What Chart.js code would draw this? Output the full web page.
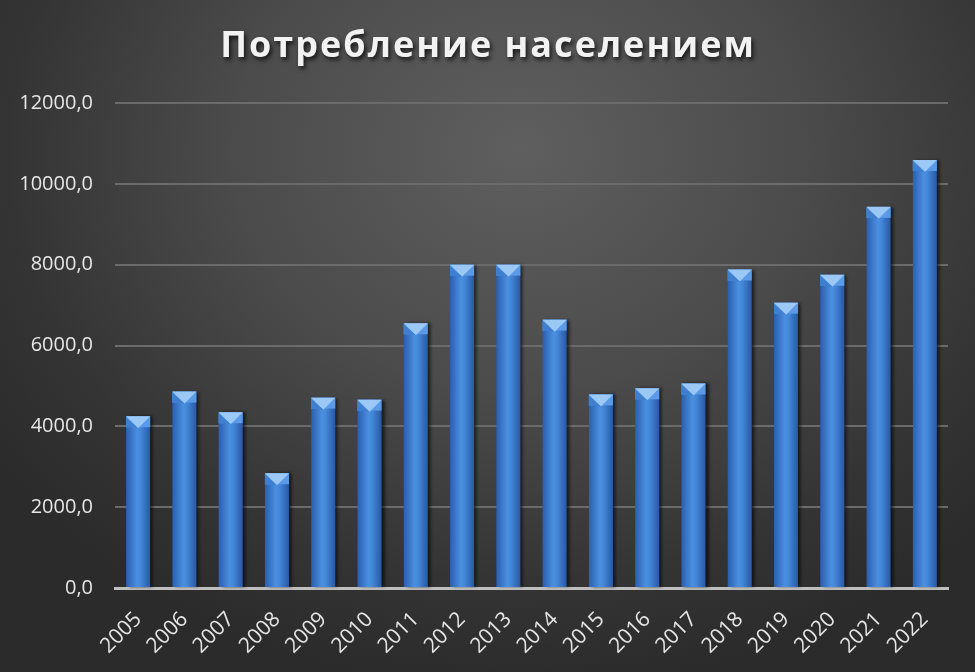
<!DOCTYPE html>
<html>
<head>
<meta charset="utf-8">
<script src="https://cdn.jsdelivr.net/npm/chart.js@4"></script>
<style>
    html, body { margin: 0; padding: 0; }
    #wrap {
        width: 975px;
        height: 672px;
        background: radial-gradient(ellipse 640px 540px at 520px 150px, #5f5f5f 0%, #4b4b4b 45%, #343434 80%, #2b2b2b 100%);
    }
</style>
</head>
<body>
<div id="wrap"><canvas id="chart" width="975" height="672"></canvas></div>
<script>
/* ============================================================
   DATA
   ============================================================ */
const chartTitle = "Потребление населением";
const years = ["2005", "2006", "2007", "2008", "2009", "2010", "2011", "2012", "2013",
               "2014", "2015", "2016", "2017", "2018", "2019", "2020", "2021", "2022"];
const consumption = [4250, 4860, 4350, 2840, 4710, 4660, 6550, 8000, 8000,
                     6640, 4790, 4940, 5060, 7880, 7060, 7750, 9430, 10590];
const yTicks = [0, 2000, 4000, 6000, 8000, 10000, 12000];

/* ============================================================
   BEVEL BARS + TITLE (drawn on top of library elements)
   ============================================================ */
const bevelBars = {
    id: "bevelBars",
    afterDatasetsDraw(chart) {
        const ctx = chart.ctx;
        const meta = chart.getDatasetMeta(0);
        meta.data.forEach(bar => {
            const { x, y, base, width } = bar.getProps(["x", "y", "base", "width"], true);
            const l = x - width / 2, r = x + width / 2;

            // body shading
            const g = ctx.createLinearGradient(l, 0, r, 0);
            g.addColorStop(0, "#2a5fae");
            g.addColorStop(0.45, "#4b8fe0");
            g.addColorStop(0.6, "#4488da");
            g.addColorStop(1, "#2858a4");
            ctx.save();
            ctx.shadowColor = "rgba(0,0,0,0.6)";
            ctx.shadowOffsetX = 3;
            ctx.shadowBlur = 3;
            ctx.fillStyle = g;
            ctx.fillRect(l, y, width, base - y);
            ctx.restore();

            // top bevel
            const d = 11;
            ctx.fillStyle = "#5b9ae6";
            ctx.fillRect(l, y, width, d);
            ctx.beginPath();
            ctx.moveTo(l, y);
            ctx.lineTo(r, y);
            ctx.lineTo(x, y + d + 1);
            ctx.closePath();
            ctx.fillStyle = "#9cc8f6";
            ctx.fill();
            ctx.beginPath();
            ctx.moveTo(l, y + d);
            ctx.lineTo(x, y + d + 1);
            ctx.lineTo(l, y + 1);
            ctx.closePath();
            ctx.fillStyle = "#3f7fcf";
            ctx.fill();
        });
    },
    afterDraw(chart) {
        const ctx = chart.ctx;
        ctx.save();
        ctx.font = "bold 36px 'Open Sans'";
        if ("letterSpacing" in ctx) ctx.letterSpacing = "2px";
        ctx.textAlign = "center";
        ctx.textBaseline = "middle";
        ctx.shadowColor = "rgba(0,0,0,0.7)";
        ctx.shadowOffsetX = 2;
        ctx.shadowOffsetY = 3;
        ctx.shadowBlur = 4;
        ctx.fillStyle = "#f2f2f2";
        ctx.fillText(chartTitle, 488, 47);
        ctx.restore();
    }
};

/* ============================================================
   CHART
   ============================================================ */
new Chart(document.getElementById("chart"), {
    type: "bar",
    data: {
        labels: years,
        datasets: [{
            data: consumption,
            backgroundColor: "rgba(0,0,0,0)",
            barPercentage: 0.52,
            categoryPercentage: 1
        }]
    },
    options: {
        responsive: false,
        animation: false,
        layout: { padding: { top: 103, right: 27, left: 0, bottom: 0 } },
        plugins: {
            legend: { display: false },
            title: { display: false },
            tooltip: { enabled: false }
        },
        scales: {
            x: {
                grid: { display: false, drawTicks: false },
                border: { display: true, color: "#bfbfbf", width: 3 },
                ticks: {
                    color: "#e6e6e6",
                    font: { family: "'Open Sans'", size: 21 },
                    minRotation: 45,
                    maxRotation: 45,
                    padding: 19
                },
                afterFit: s => { s.height = 84; }
            },
            y: {
                min: 0,
                max: 12000,
                afterBuildTicks: s => { s.ticks = yTicks.map(v => ({ value: v })); },
                grid: { color: "#6b6b6b", lineWidth: 2, drawTicks: false },
                border: { display: false },
                ticks: {
                    color: "#e6e6e6",
                    font: { family: "'Open Sans'", size: 20 },
                    padding: 22,
                    callback: v => v.toFixed(1).replace(".", ",")
                },
                afterFit: s => { s.width = 115; }
            }
        }
    },
    plugins: [bevelBars]
});
</script>
</body>
</html>
